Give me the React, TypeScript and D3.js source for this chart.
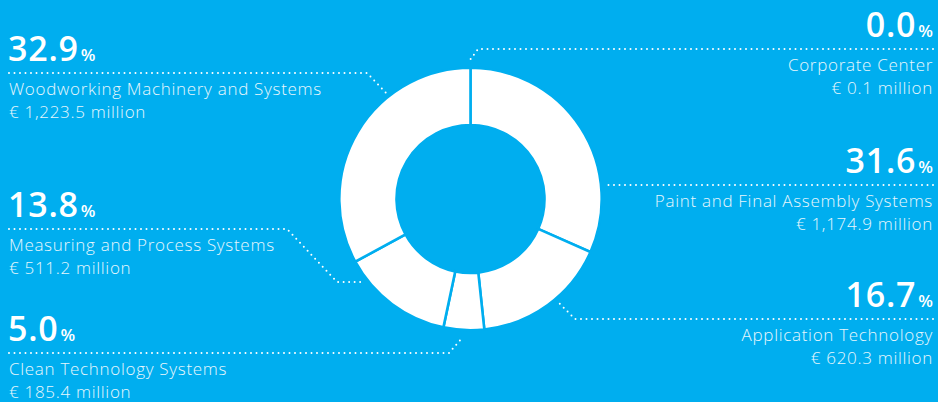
import React from "react";
import * as d3 from "d3";

// ---- data ----
const segments = [
  "Corporate Center",
  "Paint and Final Assembly Systems",
  "Application Technology",
  "Clean Technology Systems",
  "Measuring and Process Systems",
  "Woodworking Machinery and Systems",
];
const salesMillion = [0.1, 1174.9, 620.3, 185.4, 511.2, 1223.5];
const sharePct = ["0.0", "31.6", "16.7", "5.0", "13.8", "32.9"];
const amountLabels = [
  "€ 0.1 million",
  "€ 1,174.9 million",
  "€ 620.3 million",
  "€ 185.4 million",
  "€ 511.2 million",
  "€ 1,223.5 million",
];

// ---- layout (positions of label blocks and leader lines) ----
const W = 938;
const H = 402;
const BG = "#00AEEF";
const cx = 470.5;
const cy = 199;
const outerR = 131.2;
const innerR = 74;

type Block = { side: "left" | "right"; lineY: number; leader: [number, number][] };
const blocks: Block[] = [
  { side: "right", lineY: 49, leader: [[933, 49], [478, 49], [470, 60]] },
  { side: "right", lineY: 185, leader: [[933, 185], [607, 185]] },
  { side: "right", lineY: 319, leader: [[933, 319], [575, 319], [557, 301]] },
  { side: "left", lineY: 353, leader: [[9, 353], [449, 353], [463, 337]] },
  { side: "left", lineY: 229, leader: [[9, 229], [287, 229], [337, 282], [364, 282]] },
  { side: "left", lineY: 73, leader: [[9, 73], [367, 73], [387, 94]] },
];

export default function App() {
  const pie = d3
    .pie<number>()
    .sort(null)
    .value((d) => d)
    .startAngle(0)
    .endAngle(2 * Math.PI);
  const arcs = pie(salesMillion);
  const arcGen = d3.arc<d3.PieArcDatum<number>>().innerRadius(innerR).outerRadius(outerR);
  const line = d3.line();
  const font = "'Open Sans', 'Noto Sans', sans-serif";

  return (
    <svg
      width={W}
      height={H}
      style={{ position: "fixed", left: 0, top: 0, display: "block" }}
      xmlns="http://www.w3.org/2000/svg"
    >
      <rect x={0} y={0} width={W} height={H} fill={BG} />
      <g transform={`translate(${cx},${cy})`}>
        {arcs.map((a, i) => (
          <path key={i} d={arcGen(a) || ""} fill="#fff" stroke={BG} strokeWidth={2.6} strokeLinejoin="miter" />
        ))}
      </g>
      {blocks.map((b, i) => (
        <path
          key={"l" + i}
          d={line(b.leader) || ""}
          fill="none"
          stroke="#fff"
          strokeWidth={2}
          strokeLinecap="round"
          strokeDasharray="0 5.5"
        />
      ))}
      {blocks.map((b, i) => {
        const right = b.side === "right";
        const anchor = right ? "end" : "start";
        return (
          <g key={"t" + i} fontFamily={font}>
            <text x={right ? 933 : 8} y={b.lineY - 12} textAnchor={anchor} fill="#fff">
              <tspan fontSize={34} fontWeight={600} letterSpacing={0.8}>{sharePct[i]}</tspan>
              <tspan fontSize={17} fontWeight={600} dx={2}>%</tspan>
            </text>
            <text x={right ? 933 : 9} y={b.lineY + 22} textAnchor={anchor} fill="#e8f7fd" fontSize={17} fontWeight={300} letterSpacing={0.7}>
              {segments[i]}
            </text>
            <text x={right ? 933 : 9} y={b.lineY + 45} textAnchor={anchor} fill="#e8f7fd" fontSize={17} fontWeight={300} letterSpacing={0.7}>
              {amountLabels[i]}
            </text>
          </g>
        );
      })}
    </svg>
  );
}
